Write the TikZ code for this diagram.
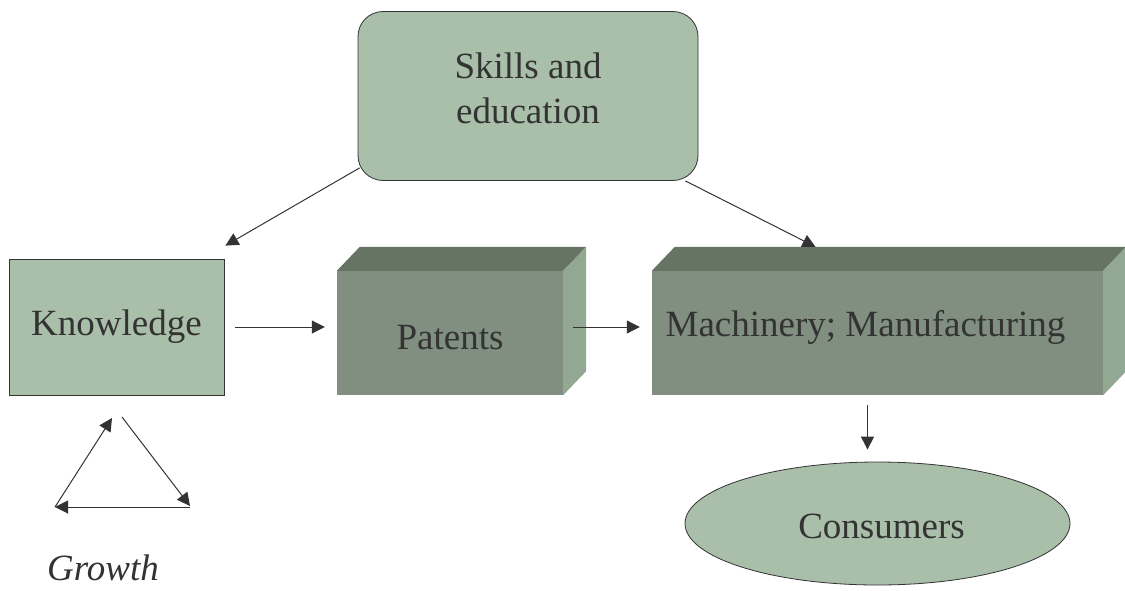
\documentclass[tikz,border=0pt]{standalone}
\usepackage{fontspec}
\setmainfont{Liberation Serif}
\usetikzlibrary{arrows.meta,shapes.geometric,calc}
\definecolor{lightgr}{HTML}{A9BFA9}
\definecolor{frontgr}{HTML}{808F7F}
\definecolor{topgr}{HTML}{667464}
\definecolor{sidegr}{HTML}{93A893}
\definecolor{ink}{HTML}{333333}

\begin{document}
\begin{tikzpicture}[x=1pt,y=-1pt,
  every node/.style={text=ink, font=\fontsize{37}{45}\selectfont, inner sep=0pt},
  plain/.style={draw=ink, line width=0.8pt, fill=lightgr},
  front/.style={fill=frontgr},
  link/.style={draw=ink, line width=1pt, -{Triangle[length=13pt,width=13pt]}},
]
\useasboundingbox (0,0) rectangle (1125,590);

% top box with rounded corners
\node[plain, rounded corners=25pt, minimum width=340pt, minimum height=169pt,
  label={[align=center, yshift=8pt]center:{Skills and\\education}}]
  (skills) at (528,96) {};

% flat box
\node[plain, minimum width=215pt, minimum height=136pt] (know) at (116.5,327) {Knowledge};

% block with depth: front face, then top and side faces
\node[front, minimum width=226pt, minimum height=124pt,
  label={[yshift=-5pt]center:Patents}] (pat) at (450,333) {};
\fill[topgr] (pat.north west) -- ++(23,-24) -- ($(pat.north east)+(23,-24)$) -- (pat.north east) -- cycle;
\fill[sidegr] (pat.north east) -- ++(23,-24) -- ($(pat.south east)+(23,-24)$) -- (pat.south east) -- cycle;

\node[front, minimum width=451pt, minimum height=124pt,
  label={[xshift=-12pt, yshift=6pt]center:Machinery; Manufacturing}] (mach) at (877.5,333) {};
\fill[topgr] (mach.north west) -- ++(23,-24) -- ($(mach.north east)+(23,-24)$) -- (mach.north east) -- cycle;
\fill[sidegr] (mach.north east) -- ++(23,-24) -- ($(mach.south east)+(23,-24)$) -- (mach.south east) -- cycle;

% ellipse
\node[plain, ellipse, minimum width=385pt, minimum height=123pt,
  label={[xshift=4pt, yshift=-3pt]center:Consumers}] (cons) at (877.5,523.5) {};

% connectors
\draw[link] ($(skills.south west)+(2,-13)$) -- ($(know.north east)+(1,-13)$);
\draw[link] ($(skills.south east)+(-13,0)$) -- ($(mach.north)+(-62,-24)$);
\draw[link] ($(know.east)+(11,0)$) -- ($(pat.west |- know.east)+(-12,0)$);
\draw[link] ($(pat.east)+(10,-6)$) -- ($(mach.west)+(-12,-6)$);
\draw[link] ($(mach.south)+(-10,10)$) -- ($(cons.north)+(-10,-12)$);

% growth cycle
\coordinate (g1) at (55,507);
\coordinate (g2) at (112,418);
\coordinate (g3) at (122,417);
\coordinate (g4) at (190,506);
\coordinate (g5) at (190,507);
\draw[link] (g1) -- (g2);
\draw[link] (g3) -- (g4);
\draw[link] (g5) -- (g1);
\node[font=\fontsize{37}{45}\selectfont\itshape] (growth) at (103,568) {Growth};
\end{tikzpicture}
\end{document}
